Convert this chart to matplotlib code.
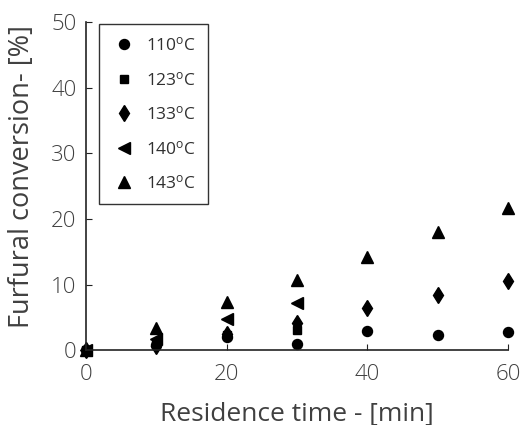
import matplotlib
matplotlib.use('Agg')
import matplotlib.pyplot as plt

plt.rcParams['font.family'] = ['Open Sans', 'DejaVu Sans']
plt.rcParams['font.weight'] = 'light'
plt.rcParams['mathtext.default'] = 'regular'

# residence time [min] and furfural conversion [%] per temperature
t_110 = [0, 10, 20, 30, 40, 50, 60]
x_110 = [0, 0.8, 2.0, 1.0, 3.0, 2.3, 2.8]
t_123 = [0, 10, 20, 30]
x_123 = [0, 1.0, 2.3, 3.1]
t_133 = [0, 10, 20, 30, 40, 50, 60]
x_133 = [0, 0.7, 2.5, 4.1, 6.5, 8.4, 10.6]
t_140 = [0, 10, 20, 30]
x_140 = [0, 1.7, 4.8, 7.2]
t_143 = [0, 10, 20, 30, 40, 50, 60]
x_143 = [0, 3.4, 7.4, 10.7, 14.2, 18.0, 21.6]

series = [(t_110, x_110, 'o', '110$^{o}$C'),
          (t_123, x_123, 's', '123$^{o}$C'),
          (t_133, x_133, 'd', '133$^{o}$C'),
          (t_140, x_140, '<', '140$^{o}$C'),
          (t_143, x_143, '^', '143$^{o}$C')]
sizes = {'o': 7.2, 's': 6, 'd': 8, '<': 8.5, '^': 8.5}

fig = plt.figure(figsize=(5.22, 4.25), dpi=100)
ax = fig.add_axes([0.165, 0.176, 0.808, 0.772])

for t, x, m, lab in series:
    ax.plot(t, x, linestyle='none', marker=m, color='black', markersize=sizes[m], label=lab, clip_on=False)

ax.set_xlim(0, 60)
ax.set_ylim(0, 50)
ax.set_xticks([0, 20, 40, 60])
ax.set_yticks([0, 10, 20, 30, 40, 50])
ax.spines['top'].set_visible(False)
ax.spines['right'].set_visible(False)
for s in ['left', 'bottom']:
    ax.spines[s].set_color('#222222')
    ax.spines[s].set_linewidth(1.2)
ax.tick_params(direction='in', length=4, labelsize=16, colors='#222222', labelcolor='#404040')
ax.tick_params(axis='x', pad=10)
ax.tick_params(axis='y', pad=7)
ax.set_xlabel('Residence time - [min]', fontsize=19, color='#404040')
ax.set_ylabel('Furfural conversion- [%]', fontsize=19.5, color='#404040')
ax.xaxis.set_label_coords(0.5, -0.155)
ax.yaxis.set_label_coords(-0.118, 0.53)

leg = ax.legend(loc='upper left', bbox_to_anchor=(0.01, 1.02), fontsize=12.5, frameon=True, fancybox=False,
                edgecolor='black', handletextpad=0.5, labelspacing=0.95, borderpad=0.7, handlelength=1.5)
leg.get_frame().set_linewidth(1.0)
for txt in leg.get_texts():
    txt.set_color('#303030')
    txt.set_fontweight('normal')

fig.savefig('out.png', dpi=100)
